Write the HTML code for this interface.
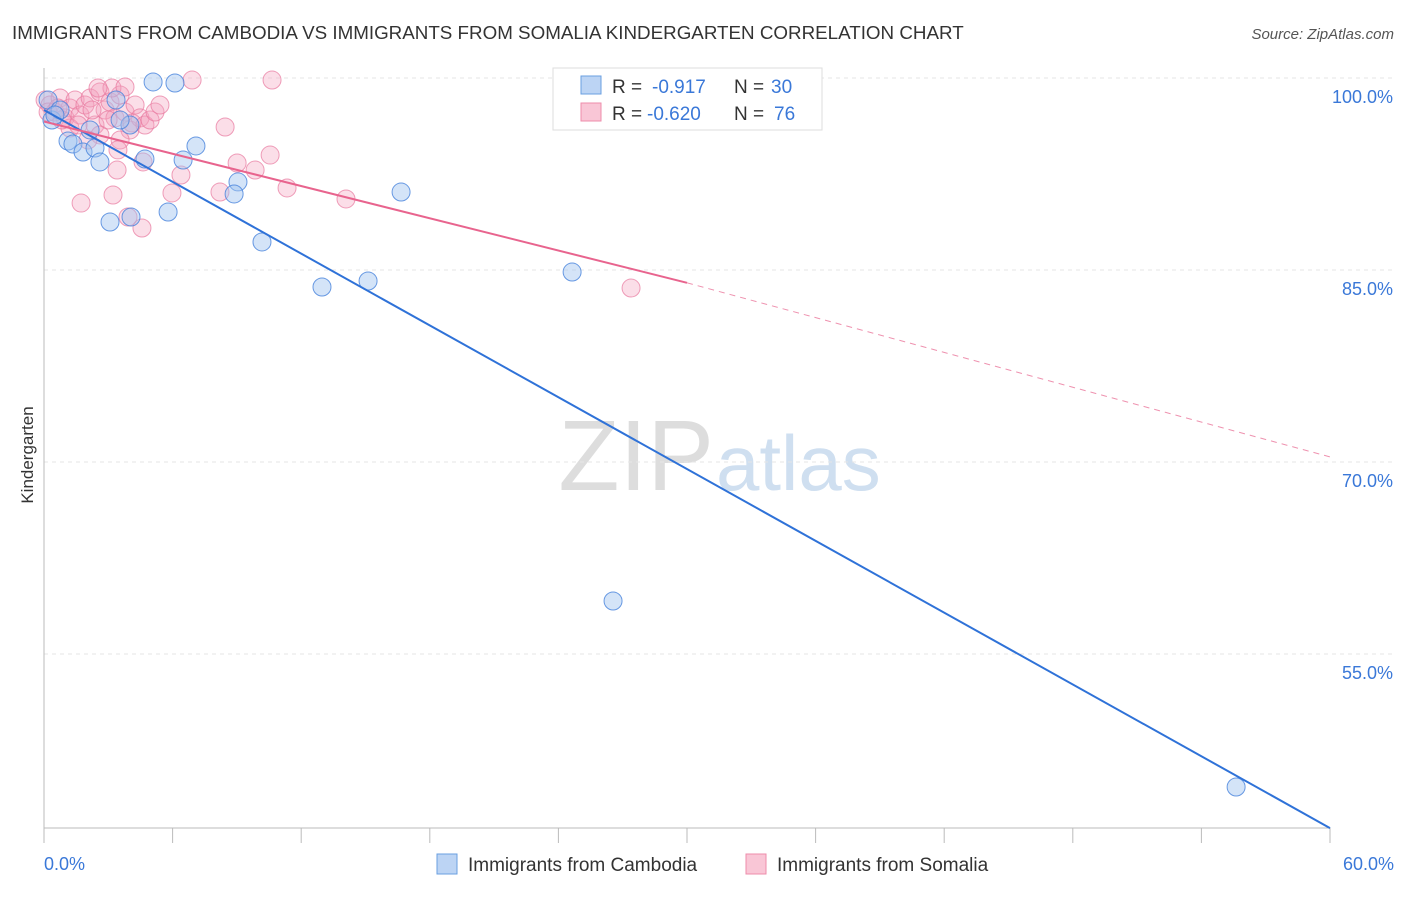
<!DOCTYPE html>
<html><head><meta charset="utf-8"><style>
body{margin:0;background:#fff;font-family:"Liberation Sans",sans-serif;}
svg text{font-family:"Liberation Sans",sans-serif;}
</style></head><body>
<svg id="chart" width="1406" height="892" xmlns="http://www.w3.org/2000/svg">
<text x="12" y="39" font-size="18.8" fill="#333">IMMIGRANTS FROM CAMBODIA VS IMMIGRANTS FROM SOMALIA KINDERGARTEN CORRELATION CHART</text>
<text x="1394" y="39" font-size="15" fill="#555" font-style="italic" text-anchor="end">Source: ZipAtlas.com</text>
<text x="714" y="490" font-size="100" fill="#ddd" text-anchor="end" font-family="Liberation Serif">ZIP</text>
<text x="716" y="490" font-size="78" fill="#cfdff0">atlas</text>
<g id="grid"></g>
<g id="marks"></g>
<text x="33" y="455" font-size="17" fill="#333" text-anchor="middle" transform="rotate(-90 33 455)">Kindergarten</text>
<g>
<rect x="553" y="68" width="269" height="62" fill="#fff" stroke="#ddd"/>
<rect x="581" y="76" width="20" height="18" fill="#bcd4f4" stroke="#6a9fe0"/>
<rect x="581" y="103" width="20" height="18" fill="#f9c6d6" stroke="#ee8cab"/>
<text x="612" y="93" font-size="19" fill="#333">R =</text>
<text x="652" y="93" font-size="19" fill="#3a78d8">-0.917</text>
<text x="734" y="93" font-size="19" fill="#333">N =</text>
<text x="771" y="93" font-size="19" fill="#3a78d8">30</text>
<text x="612" y="120" font-size="19" fill="#333">R =</text>
<text x="647" y="120" font-size="19" fill="#3a78d8">-0.620</text>
<text x="734" y="120" font-size="19" fill="#333">N =</text>
<text x="774" y="120" font-size="19" fill="#3a78d8">76</text>
</g>
<g>
<rect x="437" y="854" width="20" height="20" fill="#bcd4f4" stroke="#6a9fe0"/>
<text x="468" y="871" font-size="19" fill="#333">Immigrants from Cambodia</text>
<rect x="746" y="854" width="20" height="20" fill="#f9c6d6" stroke="#ee8cab"/>
<text x="777" y="871" font-size="19" fill="#333">Immigrants from Somalia</text>
</g>
</svg>
<script>
const xTicks=[0,6,12,18,24,30,36,42,48,54,60];
const yTicks=[100,85,70,55];
const yTickLabels=["100.0%","85.0%","70.0%","55.0%"];
const xEndLabels=["0.0%","60.0%"];
const cambodiaX=[5.09,6.11,0.19,0.37,1.12,1.35,1.82,2.38,2.61,3.36,4.01,4.71,6.49,7.09,5.79,4.06,3.08,9.05,8.87,10.17,12.97,15.12,16.66,24.64,26.55,55.62,0.75,2.15,3.55,0.51];
const cambodiaY=[99.69,99.61,98.28,96.72,95.08,94.84,94.22,94.53,93.44,98.28,96.33,93.67,93.59,94.69,89.53,89.14,88.75,91.88,90.94,87.19,83.67,84.14,91.09,84.84,59.14,44.61,97.5,95.94,96.72,97.11];
const somaliaX=[6.91,10.64,8.45,1.73,3.22,4.57,5.97,8.21,9.01,9.85,10.55,11.34,14.09,27.39,6.39,4.62,3.41,3.92,0.05,0.28,0.51,0.75,0.98,1.21,1.45,1.68,1.91,2.15,2.38,2.61,2.85,3.08,3.31,3.55,3.78,4.01,4.25,4.48,4.71,4.95,5.18,5.41,2.61,2.05,1.21,0.84,3.55,3.17,2.52,3.78,0.19,0.65,1.59,2.24,2.99,4.11,3.45];
const somaliaY=[99.84,99.84,96.17,90.23,90.86,88.28,91.02,91.09,93.36,92.81,93.98,91.41,90.55,83.59,92.42,93.44,92.81,89.14,98.28,97.89,97.34,98.44,96.88,97.66,98.28,97.11,97.89,98.44,96.33,98.91,97.5,98.13,96.88,98.67,97.34,95.94,97.89,96.88,96.33,96.72,97.34,97.89,95.55,95.16,96.09,96.72,95.16,99.22,99.22,99.3,97.34,97.66,96.33,97.5,96.72,96.48,94.38];
const cambodiaFit=[97.5,41.4];
const somaliaFit=[96.6,84.0,70.4];
const X=v=>44+v/60*1286;
const Y=v=>78+(100-v)*12.8;
const NS="http://www.w3.org/2000/svg";
const grid=document.getElementById('grid'), marks=document.getElementById('marks');
function mk(tag,attrs,parent){const e=document.createElementNS(NS,tag);for(const k in attrs)e.setAttribute(k,attrs[k]);parent.appendChild(e);return e;}
yTicks.forEach((t,i)=>{
 const l=mk('line',{x1:44,x2:1394,y1:Y(t),y2:Y(t),stroke:'#e6e6e6','stroke-dasharray':'4 4'},grid);
 
 
 const tx=mk('text',{x:1393,y:Y(t)+25,'font-size':18,fill:'#3a78d8','text-anchor':'end'},grid);
 tx.textContent=yTickLabels[i];
 
 
});
const ax=mk('line',{x1:44,x2:1330,y1:828,y2:828,stroke:'#bbb'},grid);


const ay=mk('line',{x1:44,x2:44,y1:68,y2:828,stroke:'#bbb'},grid);


xTicks.forEach(t=>{
 const l=mk('line',{x1:X(t),x2:X(t),y1:828,y2:843,stroke:'#bbb'},grid);
 
 
});
[[0,'start',44],[60,'end',1394]].forEach((d,i)=>{
 const tx=mk('text',{x:d[2],y:870,'font-size':18,fill:'#3a78d8','text-anchor':d[1]},grid);
 tx.textContent=xEndLabels[i];
 
 
});
somaliaX.forEach((x,i)=>{
 const c=mk('circle',{cx:X(x),cy:Y(somaliaY[i]),r:9,fill:'rgba(244,160,188,0.35)',stroke:'rgba(232,120,158,0.7)','stroke-width':1},marks);
 
 
});
cambodiaX.forEach((x,i)=>{
 const c=mk('circle',{cx:X(x),cy:Y(cambodiaY[i]),r:9,fill:'rgba(160,196,240,0.45)',stroke:'rgba(70,130,220,0.8)','stroke-width':1},marks);
 
 
});
const bl=mk('line',{x1:X(0),y1:Y(cambodiaFit[0]),x2:X(60),y2:Y(cambodiaFit[1]),stroke:'#2f72d8','stroke-width':2},marks);


const pl=mk('line',{x1:X(0),y1:Y(somaliaFit[0]),x2:X(30),y2:Y(somaliaFit[1]),stroke:'#e8648e','stroke-width':2},marks);


const pd=mk('line',{x1:X(30),y1:Y(somaliaFit[1]),x2:X(60),y2:Y(somaliaFit[2]),stroke:'#e8648e','stroke-width':1,'stroke-dasharray':'6 5',opacity:0.7},marks);


</script>
</body></html>
